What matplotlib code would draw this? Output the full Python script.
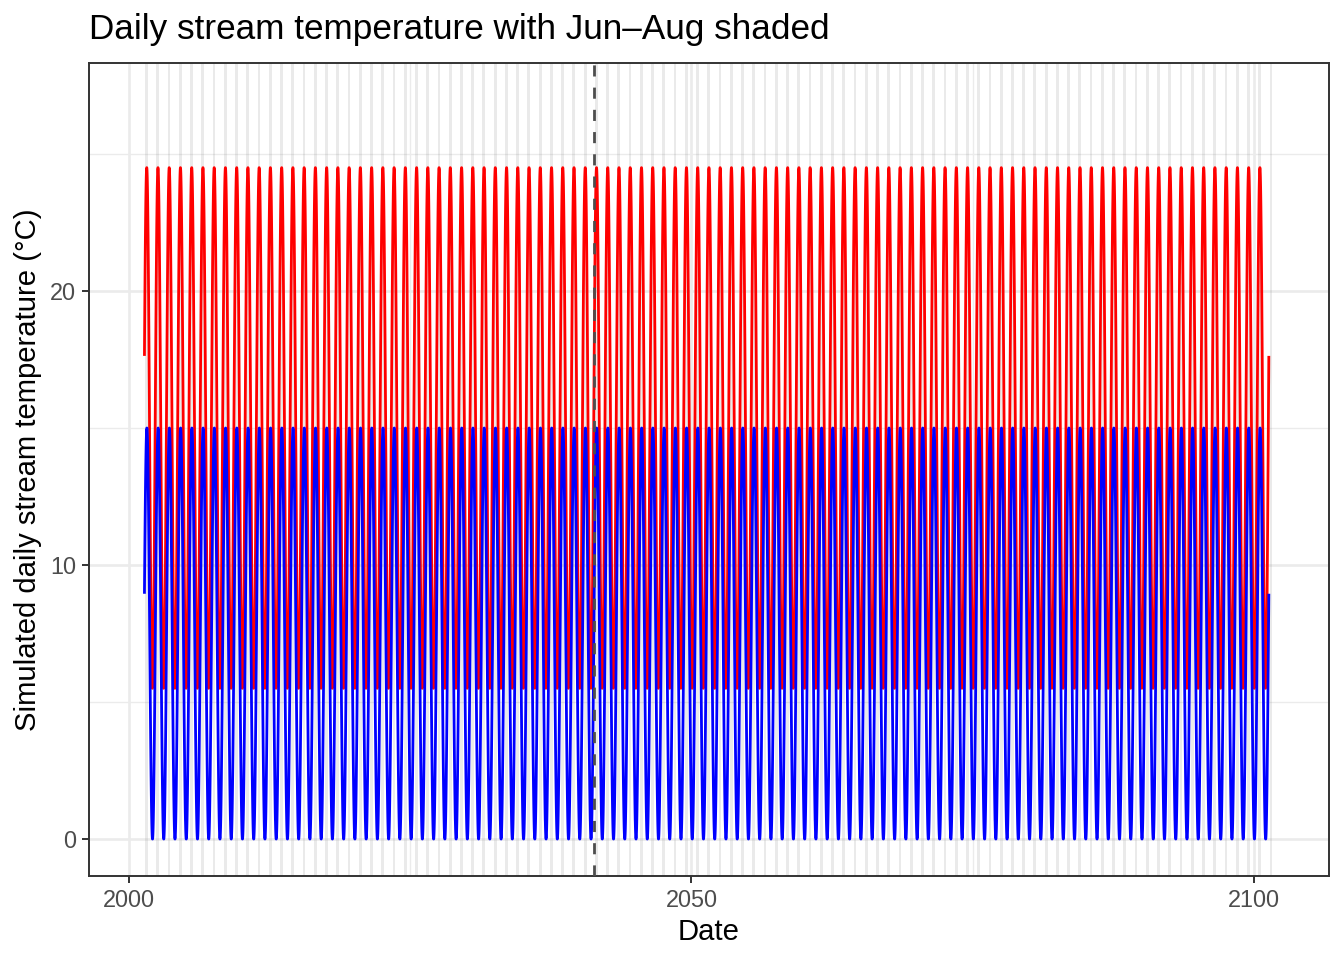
import numpy as np
import matplotlib
matplotlib.use("Agg")
import matplotlib.pyplot as plt
import matplotlib.dates as mdates
from datetime import datetime

# ---------------- data ----------------
START_DATE = "2001-05-08"
END_DATE = "2101-05-08"

# red series: seasonal cycle between 5.5 and 24.5 °C
RED_MIN, RED_MAX = 5.5, 24.5
RED_PEAK_DOY = 203
# blue series: seasonal cycle between 0 and 15 °C
BLUE_MIN, BLUE_MAX = 0.0, 15.0
BLUE_PEAK_DOY = 208

SHADE_YEARS = list(range(2001, 2102))
SHADE_START_MD = (6, 1)         # Jun 1
SHADE_END_MD = (8, 31)          # Aug 31

VLINE_DATE = "2041-05-08"

X_TICK_YEARS = [2000, 2050, 2100]
X_MINOR_YEARS = [2025, 2075]
X_LIMIT_YEARS = (1996.42, 2106.70)
Y_TICKS = [0, 10, 20]
Y_MINOR = [5, 15, 25]
Y_LIMITS = (-1.35, 28.32)

TITLE = "Daily stream temperature with Jun\u2013Aug shaded"
X_LABEL = "Date"
Y_LABEL = "Simulated daily stream temperature (\u00b0C)"

# ---------------- build series ----------------
dates = np.arange(np.datetime64(START_DATE), np.datetime64(END_DATE) + 1, dtype="datetime64[D]")
years = dates.astype("datetime64[Y]")
doy = (dates - years).astype(int) + 1

def seasonal(lo, hi, peak):
    c = np.cos(2 * np.pi * (doy - peak) / 365.25)
    return (lo + hi) / 2 + (hi - lo) / 2 * c

red = seasonal(RED_MIN, RED_MAX, RED_PEAK_DOY)
blue = seasonal(BLUE_MIN, BLUE_MAX, BLUE_PEAK_DOY)
xdates = mdates.date2num(dates.astype("datetime64[ms]").astype(datetime))

def year_to_num(y):
    return mdates.date2num(datetime(2000, 1, 1)) + (y - 2000) * 365.2425

# ---------------- figure ----------------
plt.rcParams["path.simplify"] = False
plt.rcParams["font.family"] = ["Liberation Sans", "DejaVu Sans"]

W, H = 1344, 960
fig = plt.figure(figsize=(W / 100, H / 100), dpi=100)
PL, PR, PT, PB = 89, 1329, 63, 876
ax = fig.add_axes([PL / W, 1 - PB / H, (PR - PL) / W, (PB - PT) / H])

GRID = "#EBEBEB"
for yv in Y_MINOR:
    ax.axhline(yv, color=GRID, lw=1.0, zorder=0.1)
for yv in Y_TICKS:
    ax.axhline(yv, color=GRID, lw=1.9, zorder=0.2)
for xv in X_MINOR_YEARS:
    ax.axvline(mdates.date2num(datetime(xv, 1, 1)), color=GRID, lw=1.0, zorder=0.1)
for xv in X_TICK_YEARS:
    ax.axvline(mdates.date2num(datetime(xv, 1, 1)), color=GRID, lw=1.9, zorder=0.2)

# Jun-Aug shading
for yr in SHADE_YEARS:
    x0 = mdates.date2num(datetime(yr, *SHADE_START_MD))
    x1 = mdates.date2num(datetime(yr, *SHADE_END_MD))
    ax.axvspan(x0, x1, color="#7F7F7F", alpha=0.16, lw=0, zorder=0.5)

ax.plot(xdates, red, color="#FF0000", lw=2.0, solid_capstyle="butt", zorder=2)
ax.plot(xdates, blue, color="#0000FF", lw=2.0, solid_capstyle="butt", zorder=3)

ax.axvline(mdates.date2num(datetime.strptime(VLINE_DATE, "%Y-%m-%d")),
           color="#4D4D4D", lw=2.0, ls=(0, (4.0, 4.0)), zorder=4)

ax.set_xlim(year_to_num(X_LIMIT_YEARS[0]), year_to_num(X_LIMIT_YEARS[1]))
ax.set_ylim(*Y_LIMITS)

ax.set_xticks([mdates.date2num(datetime(y, 1, 1)) for y in X_TICK_YEARS])
ax.set_xticklabels([str(y) for y in X_TICK_YEARS])
ax.set_yticks(Y_TICKS)
ax.set_yticklabels([str(v) for v in Y_TICKS])

ax.tick_params(axis="both", which="major", length=5.2, width=1.4, color="#333333",
               labelsize=16.9, labelcolor="#4D4D4D", pad=4.0)
for sp in ax.spines.values():
    sp.set_color("#333333")
    sp.set_linewidth(1.4)

ax.set_xlabel(X_LABEL, fontsize=21.1, color="black")
ax.set_ylabel(Y_LABEL, fontsize=21.1, color="black")
ax.xaxis.set_label_coords(0.5, (PB - 918) / (PB - PT))
ax.yaxis.set_label_coords((42 - PL) / (PR - PL), 0.5)

fig.text(PL / W, 1 - 39 / H, TITLE, fontsize=25.3, color="black",
         ha="left", va="baseline")

fig.savefig("out.png", dpi=100)
